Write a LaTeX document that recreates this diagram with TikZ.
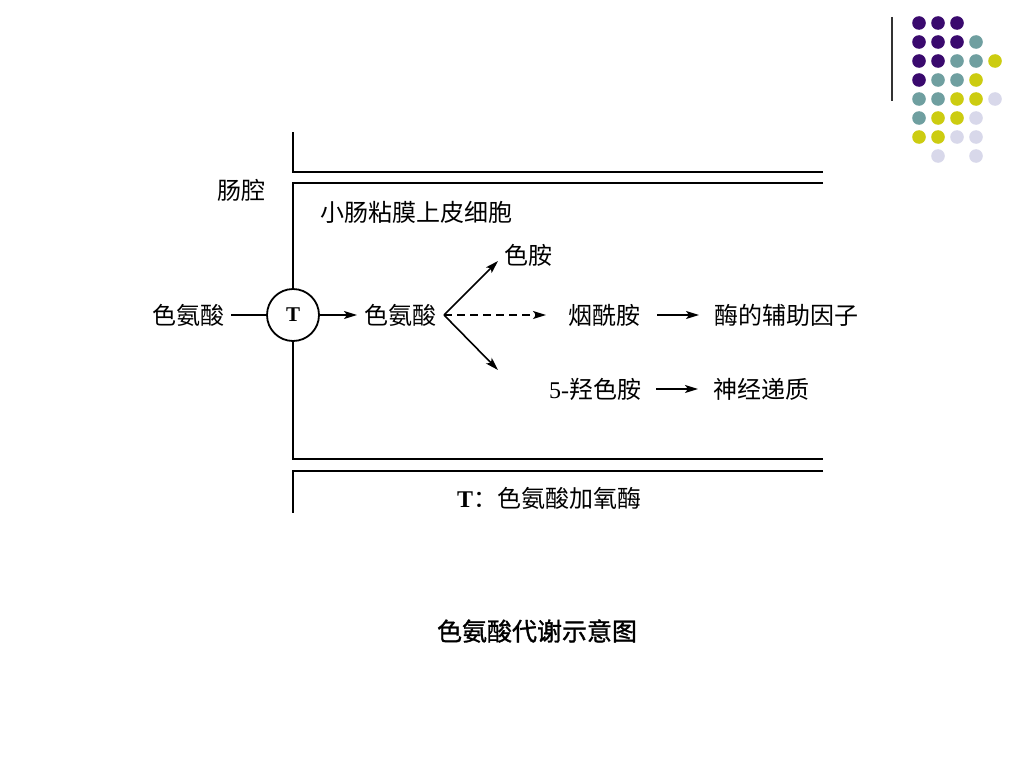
\documentclass[tikz,border=0pt]{standalone}
\usepackage{fontspec}
\setmainfont{Liberation Serif}
\newfontfamily\cjk{Noto Sans CJK SC}
\newfontfamily\cjkbold[FakeBold=1.2]{Noto Sans CJK SC}
\usepackage{tikz}
\usetikzlibrary{arrows.meta}
\tikzstyle{arrow} = [line width=1.6pt,-{Stealth[length=13pt,width=8pt,inset=3pt]}]
\tikzstyle{wall} = [line width=2pt]
\tikzstyle{txt} = [font=\cjk\fontsize{24}{24}\selectfont, inner sep=0pt, outer xsep=7pt]
\definecolor{dp}{HTML}{3A0A6E}
\definecolor{dt}{HTML}{6F9FA0}
\definecolor{dy}{HTML}{CCCC11}
\definecolor{dl}{HTML}{D8D8EA}

\begin{document}
\begin{tikzpicture}[x=1pt, y=-1pt, node distance=2cm, auto]
  \useasboundingbox (0,0) rectangle (1024,768);
  % corner decoration
  \draw[line width=1.4pt, black!80] (892,17) -- (892,101);
  \foreach \i/\j/\col in {0/0/dp,1/0/dp,2/0/dp,
      0/1/dp,1/1/dp,2/1/dp,3/1/dt,
      0/2/dp,1/2/dp,2/2/dt,3/2/dt,4/2/dy,
      0/3/dp,1/3/dt,2/3/dt,3/3/dy,
      0/4/dt,1/4/dt,2/4/dy,3/4/dy,4/4/dl,
      0/5/dt,1/5/dy,2/5/dy,3/5/dl,
      0/6/dy,1/6/dy,2/6/dl,3/6/dl,
      1/7/dl,3/7/dl}
    \fill[\col] (919+19*\i, 23+19*\j) circle (6.8pt);

  % membrane
  \node (T) [circle, draw, line width=1.8pt, minimum size=52pt, inner sep=0pt, font=\bfseries\fontsize{21}{21}\selectfont] at (293,315) {T};
  \draw[wall] (293,132) -- (293,172) -- (823,172);
  \draw[wall] (823,183) -- (293,183) -- (T.north);
  \draw[wall] (T.south) -- (293,459) -- (823,459);
  \draw[wall] (823,471) -- (293,471) -- (293,513);

  \node (lumen) [txt] at (241,190) {肠腔};
  \node (cell) [txt, anchor=west, outer sep=0pt] at (320,212) {小肠粘膜上皮细胞};
  \node (trp1) [txt] at (188,315) {色氨酸};
  \node (trp2) [txt, right of=T, node distance=107pt] {色氨酸};
  \coordinate (fork) at (444,315);
  \coordinate (up) at (498,261);
  \coordinate (down) at (498,370);
  \node (tryptamine) [txt] at (528,255) {色胺};
  \node (niacin) [txt] at (604,315) {烟酰胺};
  \node (cofactor) [txt, right of=niacin, node distance=182pt] {酶的辅助因子};
  \node (serotonin) [txt] at (595,389) {{\rmfamily 5-}羟色胺};
  \node (neuro) [txt, right of=serotonin, node distance=166pt] {神经递质};
  \node (legend) [txt] at (549,498) {{\rmfamily\bfseries T}：色氨酸加氧酶};
  \node (caption) [font=\cjkbold\fontsize{25}{25}\selectfont] at (537,631) {色氨酸代谢示意图};

  \draw[line width=1.6pt] (trp1) -- (T);
  \draw[arrow] (T) -- (trp2);
  \draw[arrow] (fork) -- (up);
  \draw[arrow] (fork) -- (down);
  \draw[arrow, dash pattern=on 8pt off 5pt, shorten >=15pt] (fork) -- (niacin);
  \draw[arrow, shorten <=10pt, shorten >=8pt] (niacin) -- (cofactor);
  \draw[arrow, shorten <=8pt, shorten >=8pt] (serotonin) -- (neuro);
\end{tikzpicture}
\end{document}
